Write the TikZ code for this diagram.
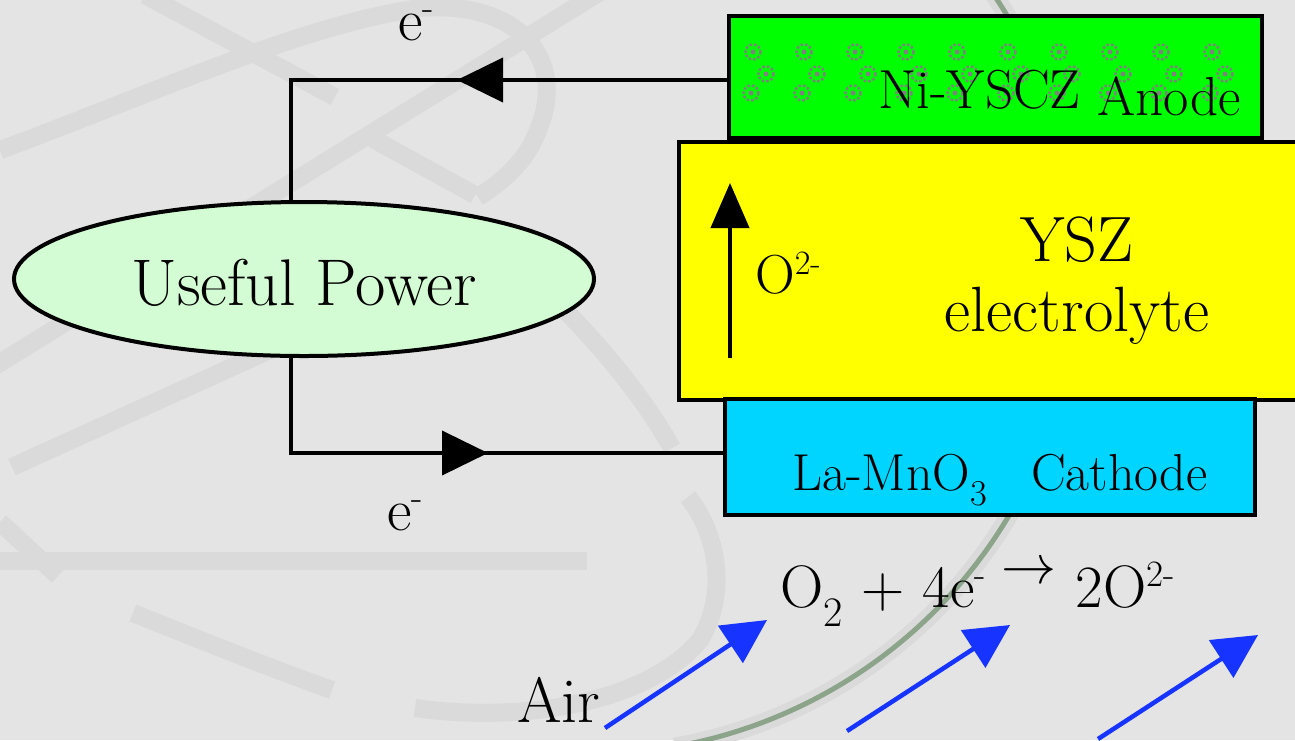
\documentclass[tikz,border=0pt]{standalone}
\usepackage{fontspec}
\usepackage{graphicx}
\usepackage{tikz}
\usetikzlibrary{arrows.meta,calc,shapes.geometric,decorations.markings}
\definecolor{cBack}{HTML}{E4E4E4}
\definecolor{cFaint}{HTML}{DADADA}
\definecolor{cSage}{HTML}{8CA48A}
\definecolor{cAnode}{HTML}{00FF00}
\definecolor{cElectro}{HTML}{FFFF00}
\definecolor{cCathode}{HTML}{00D5FF}
\definecolor{cPower}{HTML}{D4FCD4}
\definecolor{cAir}{HTML}{1633FF}
\definecolor{cDot}{HTML}{808080}
\newcommand{\ionsup}[1]{\raisebox{0.34em}{\scalebox{0.62}{#1}}}
\tikzset{
  layer/.style={draw=black,fill=#1,line width=4pt,inner sep=0pt},
  txt/.style={font={\fontsize{#1}{#1}\selectfont},inner sep=0pt},
  wire/.style={line width=4pt,color=black},
  faint/.style={cFaint,line width=18pt},
  sage/.style={cSage,line width=5pt},
  dotring/.style={cDot,line width=2.5pt,dash pattern=on 2.5pt off 2pt},
  airarr/.style={cAir,line width=4.5pt,-{Triangle[length=44pt,width=44pt]}},
  midtip/.style={postaction={decorate},
    decoration={markings,mark=at position #1 with {\arrow{Triangle[length=46pt,width=44pt]}}}},
}

\begin{document}
\begin{tikzpicture}[x=1pt,y=-1pt]
  \clip (0,0) rectangle (1295,740);
  \fill[cBack] (0,0) rectangle (1295,740);
  % faint swirls of the slide background
  \draw[faint] (0,150) .. controls (150,95) and (300,25) .. (420,8) .. controls (520,0) and (565,60) .. (540,125) .. controls (528,160) and (505,180) .. (478,197);
  \draw[faint] (145,-5) -- (335,97);
  \draw[faint] (-10,369) -- (600,-8);
  \draw[faint] (373,139) -- (475,195);
  \draw[faint] (12,467) -- (380,300);
  \draw[faint] (555,300) .. controls (605,350) and (645,400) .. (672,448);
  \draw[faint] (0,561) -- (587,561);
  \draw[faint] (0,522) -- (58,576);
  \draw[faint] (133,613) .. controls (200,640) and (270,668) .. (332,690);
  \draw[faint] (415,708) .. controls (530,724) and (650,700) .. (700,640) .. controls (730,590) and (715,530) .. (688,497);
  \draw[faint] (590,267) ++(-36:487) arc[start angle=-36,end angle=80,radius=487];
  \draw[sage] (590,267) ++(-36:487) arc[start angle=-36,end angle=80,radius=487];

  % cell layers
  \node[layer=cElectro,minimum width=631pt,minimum height=258pt] (ysz) at (994.5,271) {};
  \node[layer=cAnode,minimum width=533pt,minimum height=122pt] (anode) at (995.5,77) {};
  \foreach \yy/\xx in {52/753,74/766,93/751}
    \foreach \i in {0,...,9}{
      \draw[dotring] (\xx+51*\i,\yy) circle (7.5);
      \fill[cDot] (\xx+51*\i,\yy) circle (2.5);
    }
  \node[layer=cCathode,minimum width=530pt,minimum height=116pt] (cathode) at (990,457) {};
  \node[txt=55,anchor=base east] (anodetxt) at (1241,108) {Ni-YSCZ \raisebox{-7pt}{Anode}};
  \node[txt=64,font={\fontsize{64}{70}\selectfont},align=center] (ysztxt) at (1077,281) {YSZ\\electrolyte};
  \node[txt=52,anchor=base] (cathtxt) at (1000,490) {La-MnO\textsubscript{3}\hspace{44pt}Cathode};

  % oxide ions through the electrolyte
  \coordinate (ionfoot) at (730,358);
  \coordinate (ionhead) at (730,183);
  \draw[wire,-{Triangle[length=45pt,width=38pt]}] (ionfoot) -- (ionhead);
  \node[txt=55,anchor=base west] (iontxt) at (755,293) {O\ionsup{2-}};

  % external circuit
  \node[ellipse,draw=black,fill=cPower,line width=4pt,minimum width=580pt,minimum height=154pt,
    inner sep=0pt,font={\fontsize{66}{66}\selectfont}] (pwr) at (304,279) {\rule{0pt}{55pt}Useful Power};
  \draw[wire,midtip=270pt] ($(anode.west)+(0,3)$) -| ($(pwr.north)+(-13,0)$);
  \draw[wire,midtip=292pt] ($(pwr.south)+(-13,0)$) |- ($(cathode.west)+(0,-4)$);
  \node[txt=60,text height=30pt,anchor=base] (etop) at (416,40) {e\ionsup{-}};
  \node[txt=60,text height=30pt,anchor=base] (ebot) at (405,530) {e\ionsup{-}};

  % air side
  \node[txt=60,anchor=base west] (eqn) at (780,607)
    {O\textsubscript{2} + 4e\ionsup{-}\hspace{16pt}\raisebox{24pt}{\resizebox{55pt}{!}{$\rightarrow$}}\hspace{19pt}2O\ionsup{2-}};
  \node[txt=64,anchor=base west] (airtxt) at (517,722) {Air};
  \foreach \tx/\ty/\hx/\hy [count=\k] in {605/728/767/620,847/731/1010/625,1098/739/1258/635}{
    \coordinate (airtail\k) at (\tx,\ty);
    \coordinate (airtip\k) at (\hx,\hy);
    \draw[airarr] (airtail\k) -- (airtip\k);
  }
\end{tikzpicture}
\end{document}
